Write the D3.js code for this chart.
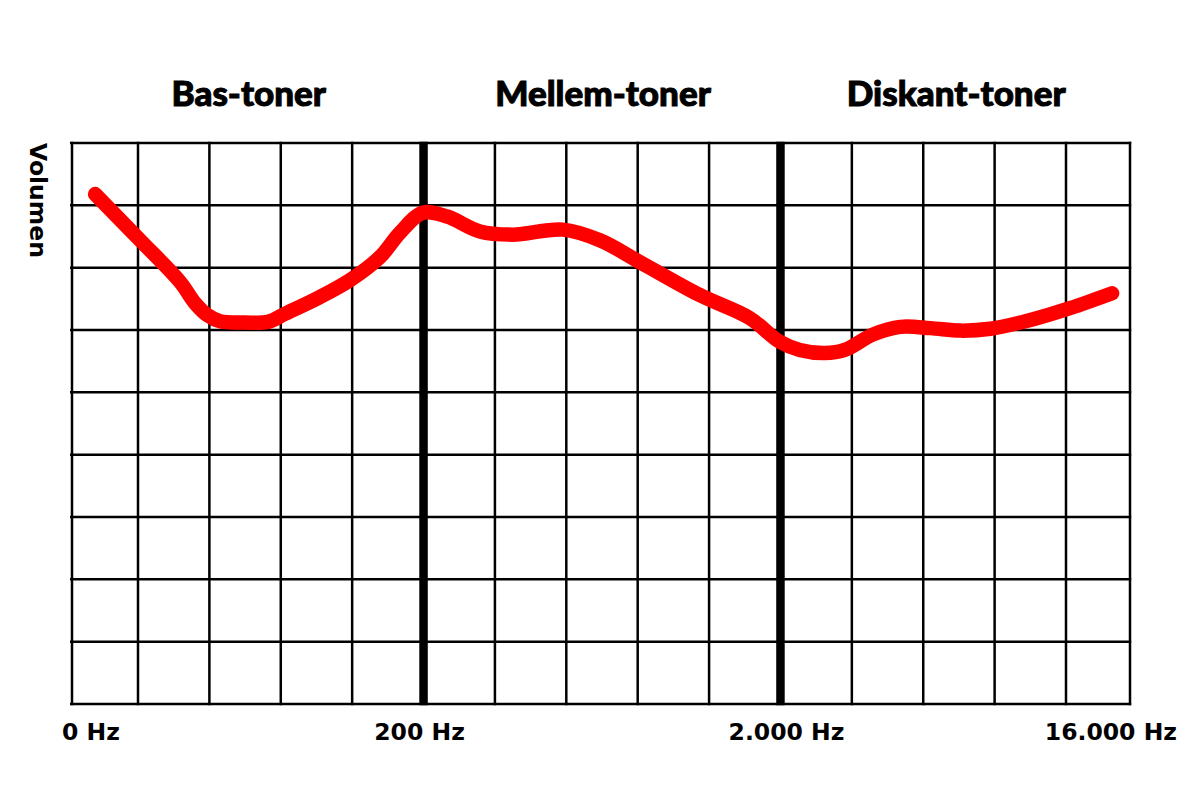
<!DOCTYPE html>
<html><head><meta charset="utf-8">
<script src="https://cdn.jsdelivr.net/npm/d3@7"></script>
<style>body{margin:0;background:#fff}svg{display:block}</style>
</head><body><svg id="chart" width="1200" height="800"></svg>
<script>
// ---- data ----
const columnLines = d3.range(0, 16);          // vertical grid positions (grid units)
const rowLines = d3.range(0, 10);             // horizontal grid positions (volume units)
const bandDividers = [5, 10];                 // 200 Hz and 2.000 Hz
const bandNames = ["Bas-toner", "Mellem-toner", "Diskant-toner"];
const bandStarts = [0, 5, 10];
const bandEnds = [5, 10, 15];
const tickPositions = [0, 5, 10, 15];
const tickLabels = ["0 Hz", "200 Hz", "2.000 Hz", "16.000 Hz"];
const yLabel = "Volumen";
const curveX = [0.35, 1.03, 1.59, 1.80, 1.97, 2.15, 2.50, 2.82, 3.06, 3.55, 3.97, 4.39, 4.67, 4.99, 5.33, 5.79, 6.25, 6.95, 7.47, 8.03, 8.87, 9.57, 9.99, 10.27, 10.62, 10.90, 11.30, 11.68, 12.10, 12.52, 12.94, 13.50, 14.06, 14.72];
const curveY = [8.18, 7.44, 6.77, 6.43, 6.24, 6.14, 6.12, 6.13, 6.26, 6.53, 6.80, 7.17, 7.56, 7.88, 7.82, 7.58, 7.53, 7.61, 7.44, 7.09, 6.56, 6.19, 5.81, 5.68, 5.63, 5.68, 5.93, 6.05, 6.03, 5.99, 6.02, 6.16, 6.35, 6.59];

// ---- scales ----
const svg = d3.select("#chart");
const x = d3.scaleLinear().domain([0, 1, 14, 15]).range([72, 138, 1066, 1130]);
const y = d3.scaleLinear().domain([0, 9]).range([704, 143]);

// grid
const grid = svg.append("g");
grid.selectAll("line.h").data(rowLines).join("line")
  .attr("x1", x(0) - 2).attr("x2", x(15) + 1.2)
  .attr("y1", d => y(d)).attr("y2", d => y(d))
  .attr("stroke", "#000").attr("stroke-width", 2.5);
grid.selectAll("line.v").data(columnLines.filter(d => !bandDividers.includes(d))).join("line")
  .attr("x1", d => x(d)).attr("x2", d => x(d))
  .attr("y1", y(9) - 1.2).attr("y2", y(0) + 1.2)
  .attr("stroke", "#000").attr("stroke-width", 2.5);
grid.selectAll("line.thick").data(bandDividers).join("line")
  .attr("x1", d => x(d)).attr("x2", d => x(d))
  .attr("y1", y(9) - 1.2).attr("y2", y(0) + 1.2)
  .attr("stroke", "#000").attr("stroke-width", 8.5);

// curve
const pts = curveX.map((d, i) => [d, curveY[i]]);
svg.append("path").datum(pts)
  .attr("fill", "none").attr("stroke", "#ff0000").attr("stroke-width", 14.5)
  .attr("stroke-linecap", "round").attr("stroke-linejoin", "round")
  .attr("d", d3.line().x(d => x(d[0])).y(d => y(d[1])).curve(d3.curveCatmullRom.alpha(0.5)));

// band titles
svg.selectAll("text.band").data(bandNames).join("text")
  .attr("x", (d, i) => (x(bandStarts[i]) + x(bandEnds[i])) / 2 + 1)
  .attr("y", 105.5)
  .attr("text-anchor", "middle")
  .attr("font-family", "Lato, 'DejaVu Sans', sans-serif")
  .attr("font-weight", 900).attr("font-size", 35)
  .attr("stroke", "#000").attr("stroke-width", 1)
  .attr("fill", "#000")
  .text(d => d);

// x tick labels
const anchors = ["start", "middle", "middle", "end"];
const dxs = [-10, -4, 6, 47];
svg.selectAll("text.tick").data(tickLabels).join("text")
  .attr("x", (d, i) => x(tickPositions[i]) + dxs[i])
  .attr("y", 740)
  .attr("text-anchor", (d, i) => anchors[i])
  .attr("font-family", "'DejaVu Sans', sans-serif")
  .attr("font-weight", "bold").attr("font-size", 23.5)
  .attr("fill", "#000")
  .text(d => d);

// y label
svg.append("text")
  .attr("transform", "translate(30,143) rotate(90)")
  .attr("font-family", "'DejaVu Sans', sans-serif")
  .attr("font-weight", "bold").attr("font-size", 23.5)
  .attr("fill", "#000")
  .text(yLabel);
</script>
</body></html>
